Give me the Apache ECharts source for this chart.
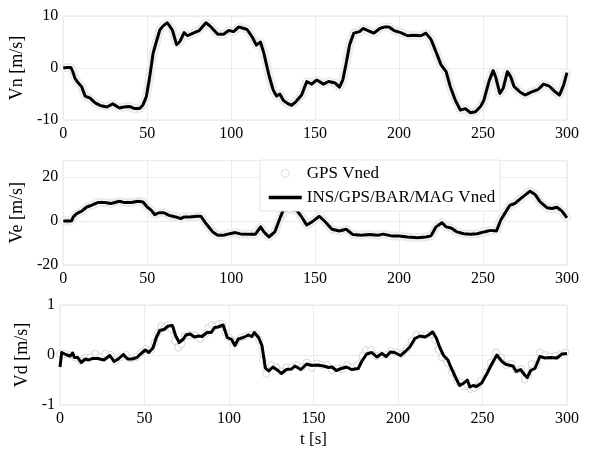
<!DOCTYPE html>
<html>
<head>
<meta charset="utf-8">
<script src="https://cdn.jsdelivr.net/npm/echarts@6/dist/echarts.min.js"></script>
<style>html,body{margin:0;padding:0;background:#fff;}#c{width:590px;height:449px;}</style>
</head>
<body>
<div id="c"></div>
<script>
// ---- data ----
const xTicks = [0, 50, 100, 150, 200, 250, 300];
const seriesNames = ['GPS Vned', 'INS/GPS/BAR/MAG Vned'];
const yNames = ['Vn [m/s]', 'Ve [m/s]', 'Vd [m/s]'];

const tVn = [0,2,4.5,5.5,7,9,11,13,16,19,22,26,29.5,33.5,36,39.5,42.5,45.5,47.5,49.5,51.5,53.5,55.5,57.5,59.5,62,65,67.5,69.5,72,74,78,81,85,88,92,95.5,98.5,101.5,104.5,109.5,112.5,115,117.5,119.5,122.5,125,127,129,131,133.5,136,138.5,142,145,148,151,155,158,162,164.5,166.5,168.5,170.5,173,176.5,178.5,181.5,185,188.5,191.5,194,197,201,205,209,213,216,219,222,225,228,230.5,233.5,236.5,239.5,242.5,245.5,248.5,250.5,253.5,256,257.5,260,262,264.5,266.5,268.5,272,275,279,283,286,289.5,293,295.5,298,300];
const vnIns = [0,0.1,0.1,-0.5,-2.0,-2.9,-3.6,-5.4,-5.8,-6.7,-7.2,-7.5,-6.9,-7.7,-7.5,-7.4,-7.8,-7.8,-7.1,-5.5,-1.7,2.8,5.1,7.3,8.1,8.7,7.3,4.5,5.1,6.8,6.2,6.8,7.2,8.7,7.9,6.5,6.5,7.2,7.0,7.9,7.4,6.0,4.4,5.0,2.8,-1.4,-4.2,-5.4,-5.0,-6.2,-6.8,-7.2,-6.5,-5.2,-2.6,-3.1,-2.3,-3.1,-2.6,-2.9,-3.7,-2.3,0.9,4.4,6.7,7.0,7.6,7.2,6.7,7.6,7.9,7.9,7.2,6.8,6.2,6.3,6.2,6.7,5.5,3.1,0.6,-0.7,-3.6,-6.2,-8.1,-7.8,-8.6,-8.4,-7.4,-6.2,-2.6,-0.5,-1.7,-4.9,-3.9,-0.7,-1.7,-3.6,-4.6,-5.2,-4.6,-4.1,-3.1,-3.5,-4.6,-5.2,-3.3,-0.9];
const vnGps = [0,0.1,0.1,-0.4,-2.0,-2.9,-3.6,-5.3,-5.9,-6.7,-7.2,-7.4,-6.9,-7.7,-7.5,-7.4,-7.8,-7.8,-7.1,-5.5,-1.7,2.8,5.1,7.3,8.1,8.7,7.3,4.6,5.1,6.8,6.2,6.8,7.2,8.7,7.9,6.5,6.5,7.2,7.0,7.9,7.4,6.0,4.4,5.0,2.8,-1.4,-4.2,-5.4,-5.0,-6.2,-6.8,-7.2,-6.5,-5.2,-2.6,-3.1,-2.3,-3.1,-2.6,-2.9,-3.7,-2.3,0.9,4.4,6.7,7.0,7.6,7.2,6.7,7.6,7.9,7.9,7.2,6.8,6.2,6.3,6.2,6.7,5.5,3.1,0.6,-0.7,-3.6,-6.2,-8.1,-7.8,-8.6,-8.4,-7.4,-6.2,-2.6,-0.5,-1.7,-4.9,-3.9,-0.7,-1.7,-3.6,-4.6,-5.2,-4.6,-4.1,-3.1,-3.5,-4.6,-5.2,-3.3,-0.9];

const tVe = [0,5,6,8,11,14,17,20.5,24.5,28.5,33.5,36.5,40.5,44.5,47.5,50,52.5,54.5,57,60,63,67,70,72,75,80,82,85,89,92,95.5,98.5,102.5,105.5,110.5,114.5,117.5,119.5,122.5,126,129,131,135,139,142,145,149,152.5,156,160,164.5,168.5,172.5,177.5,182.5,187.5,190.5,195.5,200,205,211,216,219,222,225.5,228,231,234.5,238.5,242.5,246.5,250.5,254.5,258,260.5,263.5,266,269,272,275,278,281,284,288,291,294,297,300];
const veIns = [0,0,1.8,3.3,4.4,6.3,7.1,8.3,8.3,7.9,8.9,8.3,8.3,8.9,8.6,6.3,4.8,2.8,3.7,3.7,2.5,1.8,1.0,1.8,1.8,2.1,2.1,-1.2,-5.0,-6.5,-6.5,-5.9,-5.3,-5.9,-6.0,-6.0,-2.7,-5.0,-7.3,-5.0,1.1,4.9,5.3,4.9,1.8,-1.9,0,2.1,-0.4,-3.8,-4.6,-3.8,-6.2,-6.5,-6.2,-6.5,-6.0,-6.8,-6.8,-7.3,-7.6,-7.3,-6.8,-2.7,-0.8,-2.7,-3.2,-5.0,-5.8,-6.0,-5.8,-5.0,-4.3,-4.6,0.3,4.1,7.1,7.9,9.9,11.7,13.5,12.0,8.6,6.0,5.6,6.2,4.4,1.4];
const veGps = [0,0,1.8,3.3,4.4,6.3,7.1,8.3,8.3,7.9,8.9,8.3,8.3,8.9,8.6,6.3,4.8,2.8,3.7,3.7,2.5,1.8,1.0,1.8,1.8,2.1,2.1,-1.2,-5.0,-6.5,-6.5,-5.9,-5.3,-5.9,-6.0,-6.0,-2.7,-5.0,-7.3,-5.0,1.1,4.9,5.3,4.9,1.8,-1.9,0,2.1,-0.4,-3.8,-4.6,-3.8,-6.2,-6.5,-6.2,-6.5,-6.0,-6.8,-6.8,-7.3,-7.6,-7.3,-6.8,-2.7,-0.8,-2.7,-3.2,-5.0,-5.8,-6.0,-5.8,-5.0,-4.3,-4.6,0.3,4.1,7.1,7.9,9.9,11.7,13.5,12.0,8.6,6.0,5.6,6.2,4.4,1.4];

const tVd = [0,1,4,6,7.5,8.5,10.5,12.5,15,17,19,22.5,26,29.5,32,34.5,37.5,40,42.5,45.5,48,50.5,52.5,55,57,59,61.5,64,66.5,68.5,70.5,73,74.5,77,79.5,82,84,87,89.5,91.5,93.5,96.5,99,101.5,103.5,105.5,108.5,111.5,113.5,115,117.5,119.5,121.5,123.5,126,129,131,134,137,139,142.5,146,149,152,156,159,161,163.5,166.5,169.5,172.5,176.5,178.5,181.5,184.5,187.5,190.5,193,195.5,198,201.5,204,207,210,213,216,218.5,220.5,222.5,225,227,229.5,231.5,234.5,236.5,239,241,242.5,244.5,246.5,249.5,252.5,255.5,258.5,261.5,264,268,270,272.5,275,276.5,278.5,281,284,287,290,294,297,300];
const vdIns = [-0.24,0.05,0.0,-0.02,0.04,-0.05,-0.05,-0.15,-0.08,-0.1,-0.07,-0.07,-0.1,-0.01,-0.13,-0.08,0.01,-0.08,-0.08,-0.05,0.03,0.1,0.05,0.14,0.35,0.49,0.51,0.58,0.59,0.38,0.25,0.32,0.4,0.42,0.36,0.38,0.37,0.45,0.45,0.55,0.56,0.6,0.35,0.31,0.19,0.32,0.35,0.4,0.37,0.45,0.35,0.19,-0.26,-0.32,-0.24,-0.31,-0.37,-0.29,-0.28,-0.22,-0.29,-0.18,-0.21,-0.2,-0.22,-0.25,-0.24,-0.31,-0.27,-0.24,-0.29,-0.27,-0.13,0.02,0.05,-0.04,0.03,-0.03,0.06,0.05,-0.01,0.06,0.16,0.33,0.38,0.36,0.41,0.46,0.35,0.13,-0.01,-0.1,-0.26,-0.48,-0.61,-0.56,-0.5,-0.64,-0.61,-0.63,-0.56,-0.38,-0.18,0.0,-0.13,-0.19,-0.22,-0.33,-0.29,-0.4,-0.45,-0.31,-0.27,-0.03,-0.06,-0.05,-0.06,0.02,0.03];

const tVdGps = [0,3,6,9,12,15,18,21,24,27,30,33,36,39,42,45,48,51,54,56,58,60,62,64,66,68,70,72,74,77,80,83,86,88,90,92,94,96,98,100,102,104,107,110,113,116,118,120,122,125,128,131,134,137,140,143,146,149,152,155,158,161,164,167,170,173,176,179,181,184,187,190,193,196,199,202,205,208,211,214,217,220,222,224,226,229,232,235,237,239,241,243,245,247,249,252,255,258,261,264,267,270,273,275,277,279,282,284,287,290,293,296,299];
const vdGps = [0.02,0.02,0.0,-0.05,-0.12,-0.06,-0.05,0.03,-0.04,0.03,0.0,-0.12,-0.04,0.0,-0.07,-0.04,0.05,0.12,0.1,0.25,0.45,0.58,0.55,0.6,0.52,0.28,0.15,0.22,0.38,0.4,0.4,0.32,0.42,0.55,0.6,0.58,0.62,0.62,0.45,0.35,0.28,0.25,0.35,0.38,0.4,0.42,0.3,-0.1,-0.38,-0.2,-0.25,-0.33,-0.25,-0.24,-0.2,-0.25,-0.15,-0.25,-0.17,-0.2,-0.2,-0.3,-0.27,-0.28,-0.2,-0.25,-0.2,-0.02,0.1,0.1,-0.02,0.0,0.0,0.08,0.05,0.02,0.12,0.28,0.4,0.4,0.4,0.42,0.3,0.1,-0.05,-0.15,-0.35,-0.52,-0.55,-0.63,-0.6,-0.68,-0.66,-0.62,-0.52,-0.35,-0.15,0.05,-0.05,-0.2,-0.18,-0.3,-0.28,-0.48,-0.42,-0.18,-0.2,0.05,0.0,-0.03,-0.02,0.0,0.05];

const yRanges = [
  {min: -10, max: 10, interval: 10},
  {min: -20, max: 27.3, interval: 20},
  {min: -1, max: 1, interval: 1}
];

// ---- chart ----
const FONT = 'Liberation Serif';
const pairs = (t, v) => t.map((x, i) => [x, v[i]]);
const gridTops = [16, 160.7, 305];
const gridHeights = [104, 104.3, 104];

const grids = gridTops.map((top, i) => ({
  left: 60, right: 23, top: top, height: gridHeights[i],
  show: true, borderColor: '#e6e6e6', borderWidth: 1, containLabel: false
}));

const xAxes = gridTops.map((_, i) => ({
  type: 'value', gridIndex: i, min: 0, max: 300, interval: 50,
  axisLine: {show: false}, axisTick: {show: false},
  splitLine: {show: true, lineStyle: {color: '#ececec', width: 1}},
  axisLabel: {fontFamily: FONT, fontSize: 16, color: '#000', margin: 6,
    formatter: v => xTicks.includes(v) ? String(v) : ''},
  name: i === 2 ? 't [s]' : '', nameLocation: 'middle', nameGap: 26,
  nameTextStyle: {fontFamily: FONT, fontSize: 17, color: '#000'}
}));

const yAxes = gridTops.map((_, i) => ({
  type: 'value', gridIndex: i, min: yRanges[i].min, max: yRanges[i].max, interval: yRanges[i].interval,
  axisLine: {show: false}, axisTick: {show: false},
  splitLine: {show: true, lineStyle: {color: '#ececec', width: 1}},
  axisLabel: {fontFamily: FONT, fontSize: 16, color: '#000', margin: 5,
    formatter: v => (Math.abs(v / yRanges[i].interval - Math.round(v / yRanges[i].interval)) < 1e-6) ? String(v) : ''},
  name: yNames[i], nameLocation: 'middle', nameGap: 27,
  nameTextStyle: {fontFamily: FONT, fontSize: 18, color: '#000'}
}));

const gpsData = [pairs(tVn, vnGps), pairs(tVe, veGps), pairs(tVdGps, vdGps)];
const insData = [pairs(tVn, vnIns), pairs(tVe, veIns), pairs(tVd, vdIns)];

const series = [];
for (let i = 0; i < 3; i++) {
  series.push({
    name: seriesNames[0], type: 'line', xAxisIndex: i, yAxisIndex: i,
    data: gpsData[i], symbol: 'circle', symbolSize: 7, showSymbol: true,
    itemStyle: {color: '#ffffff', borderColor: i === 2 ? '#d6d6d6' : '#e4e4e4', borderWidth: 1},
    lineStyle: {color: '#eeeeee', width: i === 2 ? 5 : 9},
    z: 2, animation: false, silent: true
  });
  series.push({
    name: seriesNames[1], type: 'line', xAxisIndex: i, yAxisIndex: i,
    data: insData[i], symbol: 'none', showSymbol: false,
    lineStyle: {color: '#000000', width: 3, join: 'round'},
    itemStyle: {color: '#000000'},
    z: 3, animation: false, silent: true
  });
}

const chart = echarts.init(document.getElementById('c'), null, {renderer: 'canvas'});
chart.setOption({
  backgroundColor: '#ffffff',
  animation: false,
  grid: grids,
  xAxis: xAxes,
  yAxis: yAxes,
  legend: {
    left: 260, top: 160, orient: 'vertical',
    padding: [4, 5, 4, 7], itemGap: 5, itemWidth: 33, itemHeight: 8,
    backgroundColor: '#ffffff', borderColor: '#e6e6e6', borderWidth: 1,
    textStyle: {fontFamily: FONT, fontSize: 17, color: '#000', lineHeight: 19},
    data: [
      {name: seriesNames[0], icon: 'circle', itemStyle: {color: '#ffffff', borderColor: '#dcdcdc', borderWidth: 1}},
      {name: seriesNames[1], itemStyle: {color: 'rgba(0,0,0,0)', borderWidth: 0, opacity: 0},
       lineStyle: {color: '#000000', width: 3.5}}
    ],
    selectedMode: false, z: 10
  },
  series: series
});
</script>
</body>
</html>
